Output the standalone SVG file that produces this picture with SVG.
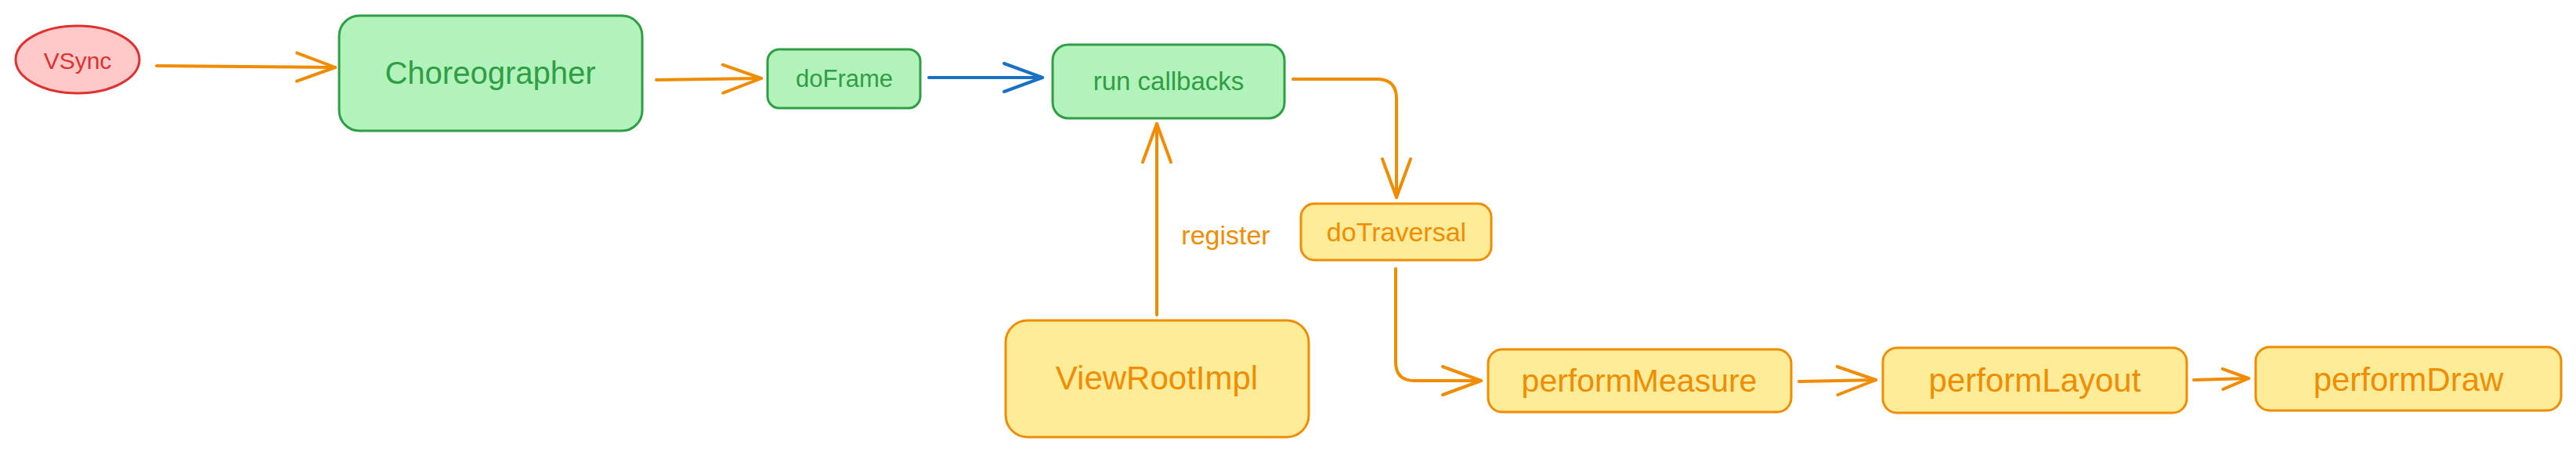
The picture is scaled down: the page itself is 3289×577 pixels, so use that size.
<svg xmlns="http://www.w3.org/2000/svg" width="3289" height="577" viewBox="0 0 3289 577">
<style>
text{font-family:"Liberation Sans","DejaVu Sans",sans-serif;text-anchor:middle;dominant-baseline:central}
.g rect{fill:#b2f2bb;stroke:#2f9e44;stroke-width:3}
.g text{fill:#2f9e44}
.y rect{fill:#ffec99;stroke:#f08c00;stroke-width:3}
.y text{fill:#f08c00}
.conn path{fill:none;stroke:#f08c00;stroke-width:4;stroke-linecap:round;stroke-linejoin:round}
.conn path.blue{stroke:#1971c2}
</style>
<defs>
<marker id="ah" markerUnits="userSpaceOnUse" markerWidth="56" markerHeight="44" viewBox="0 0 56 44" refX="52" refY="22" orient="auto">
<path d="M3 4 L52 22 L3 40" fill="none" stroke="#f08c00" stroke-width="4" stroke-linecap="round" stroke-linejoin="round"/>
</marker>
<marker id="ahs" markerUnits="userSpaceOnUse" markerWidth="40" markerHeight="34" viewBox="0 0 40 34" refX="36" refY="17" orient="auto">
<path d="M3 4 L36 17 L3 30" fill="none" stroke="#f08c00" stroke-width="4" stroke-linecap="round" stroke-linejoin="round"/>
</marker>
<marker id="ahb" markerUnits="userSpaceOnUse" markerWidth="56" markerHeight="44" viewBox="0 0 56 44" refX="52" refY="22" orient="auto">
<path d="M3 4 L52 22 L3 40" fill="none" stroke="#1971c2" stroke-width="4" stroke-linecap="round" stroke-linejoin="round"/>
</marker>
</defs>
<g id="connectors" class="conn">
<path d="M200 84 L428 86" marker-end="url(#ah)"/>
<path d="M838 102 L972 100" marker-end="url(#ah)"/>
<path class="blue" d="M1186 99 L1331 99" marker-end="url(#ahb)"/>
<path d="M1651 101 L1758 101 Q1783 101 1783 126 L1783 252" marker-end="url(#ah)"/>
<path d="M1477 402 L1477 158" marker-end="url(#ah)"/>
<path d="M1782 343 L1782 462 Q1782 486 1806 486 L1891 486" marker-end="url(#ah)"/>
<path d="M2297 487 L2395 485" marker-end="url(#ah)"/>
<path d="M2801 485 L2871 483" marker-end="url(#ahs)"/>
<text x="1565" y="300" font-size="34" fill="#f08c00">register</text>
</g>
<g id="vsync">
<ellipse cx="99" cy="76" rx="79" ry="43" fill="#ffc9c9" stroke="#e03131" stroke-width="3"/>
<text x="99" y="77" font-size="30" fill="#e03131">VSync</text>
</g>
<g id="choreographer" class="g">
<rect x="433" y="20" width="387" height="147" rx="26"/>
<text x="626" y="93" font-size="40">Choreographer</text>
</g>
<g id="doFrame" class="g">
<rect x="980" y="63" width="195" height="75" rx="15"/>
<text x="1078" y="100" font-size="31">doFrame</text>
</g>
<g id="runCallbacks" class="g">
<rect x="1344" y="57" width="296" height="94" rx="20"/>
<text x="1492" y="103" font-size="33">run callbacks</text>
</g>
<g id="doTraversal" class="y">
<rect x="1661" y="260" width="243" height="72" rx="17"/>
<text x="1783" y="296" font-size="34">doTraversal</text>
</g>
<g id="viewRootImpl" class="y">
<rect x="1284" y="409" width="387" height="149" rx="28"/>
<text x="1477" y="482" font-size="42">ViewRootImpl</text>
</g>
<g id="performMeasure" class="y">
<rect x="1900" y="446" width="387" height="80" rx="18"/>
<text x="2093" y="486" font-size="41">performMeasure</text>
</g>
<g id="performLayout" class="y">
<rect x="2404" y="444" width="388" height="83" rx="18"/>
<text x="2598" y="485" font-size="42">performLayout</text>
</g>
<g id="performDraw" class="y">
<rect x="2880" y="443" width="390" height="81" rx="18"/>
<text x="3075" y="484" font-size="42">performDraw</text>
</g>
</svg>
